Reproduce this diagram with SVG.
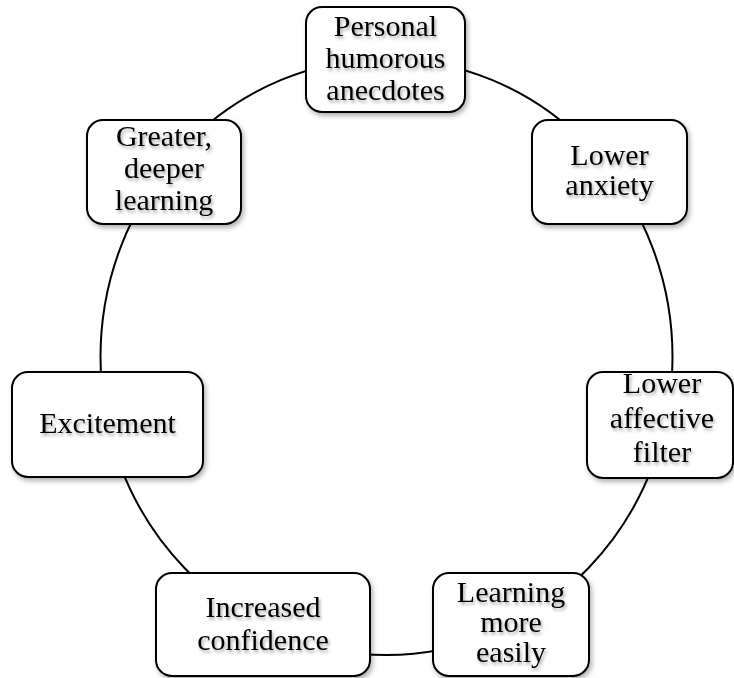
<svg xmlns="http://www.w3.org/2000/svg" width="734" height="678" viewBox="0 0 734 678">
<defs>
<filter id="sh" x="-10%" y="-10%" width="125%" height="130%">
<feDropShadow dx="2" dy="3" stdDeviation="2.5" flood-color="#000" flood-opacity="0.3"/>
</filter>
<filter id="tsh" x="-10%" y="-20%" width="125%" height="150%">
<feDropShadow dx="1.5" dy="2.5" stdDeviation="1.5" flood-color="#000" flood-opacity="0.35"/>
</filter>
</defs>
<style>
.box{fill:#fff;stroke:#000;stroke-width:2;filter:url(#sh)}
.t{font-family:"Liberation Serif","Times New Roman",serif;font-size:30px;fill:#000;text-anchor:middle;filter:url(#tsh)}
.c{fill:none;stroke:#000;stroke-width:2}
</style>
<rect width="734" height="678" fill="#fff"/>
<g id="connectors">
<ellipse class="c" cx="386.5" cy="357" rx="286" ry="298"/>
</g>
<g id="n1">
<rect class="box" x="306" y="7" width="159" height="105" rx="16"/>
<text class="t" x="385.5" y="36">Personal</text>
<text class="t" x="385.5" y="68">humorous</text>
<text class="t" x="385.5" y="100">anecdotes</text>
</g>
<g id="n2">
<rect class="box" x="532" y="120" width="155" height="104" rx="16"/>
<text class="t" x="609.5" y="165">Lower</text>
<text class="t" x="609.5" y="195">anxiety</text>
</g>
<g id="n3">
<rect class="box" x="587" y="372" width="146" height="106" rx="16"/>
<text class="t" x="662" y="393">Lower</text>
<text class="t" x="662" y="428">affective</text>
<text class="t" x="662" y="462">filter</text>
</g>
<g id="n4">
<rect class="box" x="433" y="573" width="156" height="103" rx="16"/>
<text class="t" x="511" y="602">Learning</text>
<text class="t" x="511" y="632">more</text>
<text class="t" x="511" y="662">easily</text>
</g>
<g id="n5">
<rect class="box" x="156" y="573" width="214" height="103" rx="16"/>
<text class="t" x="263" y="617">Increased</text>
<text class="t" x="263" y="650">confidence</text>
</g>
<g id="n6">
<rect class="box" x="12" y="372" width="191" height="105" rx="16"/>
<text class="t" x="107.5" y="433">Excitement</text>
</g>
<g id="n7">
<rect class="box" x="87" y="120" width="154" height="104" rx="16"/>
<text class="t" x="164" y="146">Greater,</text>
<text class="t" x="164" y="178">deeper</text>
<text class="t" x="164" y="210">learning</text>
</g>
</svg>
